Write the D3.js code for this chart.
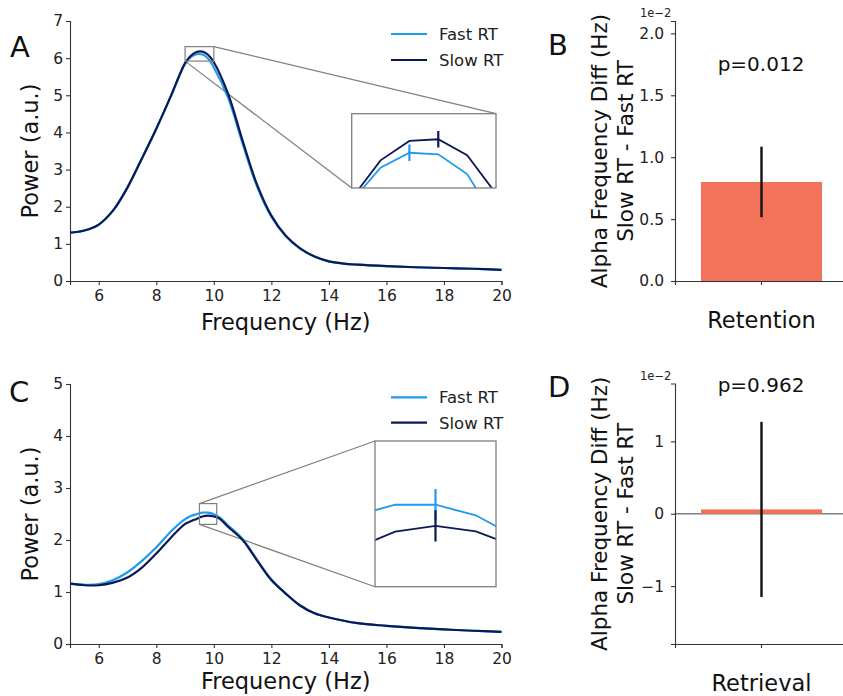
<!DOCTYPE html>
<html><head><meta charset="utf-8">
<script src="https://cdn.jsdelivr.net/npm/d3@7"></script>
<style>body{margin:0;background:#fff}svg{display:block;font-family:"DejaVu Sans",sans-serif}</style>
</head><body><svg id="c" width="843" height="696"></svg>
<script>
// ---------- data ----------
const seriesNames = ["Fast RT", "Slow RT"];
const freqTicks = [6, 8, 10, 12, 14, 16, 18, 20];

// Panel A (retention) spectra
const freqA = [5,5.5,6,6.5,7,7.5,8,8.5,9,9.2,9.4,9.6,9.8,10,10.5,11,11.5,12,12.5,13,13.5,14,14.5,15,16,17,18,19,20];
const fastA = [1.30,1.36,1.52,1.90,2.52,3.30,4.10,4.96,5.85,6.027,6.105,6.097,5.993,5.75,4.93,3.70,2.55,1.73,1.21,0.87,0.66,0.53,0.47,0.44,0.40,0.37,0.35,0.33,0.30];
const slowA = [1.30,1.36,1.52,1.90,2.52,3.30,4.10,4.97,5.865,6.065,6.167,6.176,6.092,5.89,5.03,3.78,2.60,1.76,1.22,0.88,0.66,0.53,0.47,0.44,0.40,0.37,0.35,0.33,0.30];
const peakFreqA = [9.4, 9.6];

// Panel C (retrieval) spectra
const freqC = [5,5.5,6,6.5,7,7.5,8,8.5,9,9.2,9.4,9.6,9.8,10,10.2,10.5,11,11.5,12,12.5,13,13.5,14,15,16,17,18,19,20];
const fastC = [1.16,1.14,1.15,1.23,1.38,1.60,1.86,2.16,2.40,2.46,2.495,2.525,2.525,2.496,2.436,2.28,2.02,1.62,1.24,0.97,0.74,0.59,0.51,0.40,0.35,0.31,0.28,0.255,0.235];
const slowC = [1.16,1.13,1.13,1.18,1.28,1.47,1.74,2.04,2.31,2.36,2.405,2.451,2.467,2.452,2.41,2.25,2.00,1.61,1.23,0.97,0.74,0.59,0.51,0.40,0.35,0.31,0.28,0.255,0.235];
const peakFreqC = [9.8, 9.8];

// Panels B / D: alpha frequency difference (Hz)
const conditions = ["Retention", "Retrieval"];
const diffValues = [0.0080, 0.0006];
const diffErrors = [0.00285, 0.0121];
const pValues = ["p=0.012", "p=0.962"];
const diffTicksB = [0, 0.005, 0.01, 0.015, 0.02];
const diffTicksD = [-0.01, 0, 0.01];

// ---------- style ----------
const FAST = "#1E9BEF", SLOW = "#0B1A55", BAR = "#F2735A", GRAY = "#7f7f7f", AX = "#333";
const TICK_FS = 15.5;
const svg = d3.select("#c");

function styleAxis(sel, fs) {
  sel.select(".domain").attr("stroke", AX).attr("stroke-width", 1.1);
  sel.selectAll(".tick line").attr("stroke", AX).attr("stroke-width", 1.1);
  sel.selectAll(".tick text").attr("fill", "#222").attr("font-size", fs).attr("font-family", "DejaVu Sans");
}

function panelLetter(t, x, y) {
  svg.append("text").attr("x", x).attr("y", y).attr("font-size", 29).attr("fill", "#111").text(t);
}

function spectrum(o) {
  const x = d3.scaleLinear().domain([5, 20]).range([70, 501.5]);
  const y = d3.scaleLinear().domain([0, o.ymax]).range([o.bottom, o.top]);
  const g = svg.append("g");
  const ax = g.append("g").attr("transform", `translate(0,${o.bottom})`)
    .call(d3.axisBottom(x).tickValues(freqTicks).tickSizeOuter(0).tickSize(4).tickPadding(5));
  styleAxis(ax, TICK_FS);
  const ay = g.append("g").attr("transform", `translate(70,0)`)
    .call(d3.axisLeft(y).ticks(o.ymax).tickSizeOuter(0).tickSize(4).tickPadding(3));
  styleAxis(ay, TICK_FS);

  // labels
  g.append("text").attr("x", 285.75).attr("y", o.bottom + o.xlabOff).attr("text-anchor", "middle")
    .attr("font-size", 22.5).attr("fill", "#111").text("Frequency (Hz)");
  g.append("text").attr("transform", `translate(38,${(o.top + o.bottom) / 2}) rotate(-90)`)
    .attr("text-anchor", "middle").attr("font-size", 22.5).attr("fill", "#111").text("Power (a.u.)");

  // inset geometry
  const ix = o.inset.x, iy = o.inset.y, bx = o.box;
  const sx = d3.scaleLinear().domain(ix).range([bx[0], bx[2]]);
  const sy = d3.scaleLinear().domain(iy).range([bx[3], bx[1]]);
  const src = { x0: x(ix[0]), x1: x(ix[1]), y0: y(iy[1]), y1: y(iy[0]) };
  const srcCorner = { tl: [src.x0, src.y0], tr: [src.x1, src.y0], bl: [src.x0, src.y1], br: [src.x1, src.y1] };
  const boxCorner = { tl: [bx[0], bx[1]], tr: [bx[2], bx[1]], bl: [bx[0], bx[3]], br: [bx[2], bx[3]] };
  o.connect.forEach(k => {
    g.append("line").attr("x1", srcCorner[k][0]).attr("y1", srcCorner[k][1])
      .attr("x2", boxCorner[k][0]).attr("y2", boxCorner[k][1])
      .attr("stroke", GRAY).attr("stroke-width", 1.2);
  });

  // main lines
  const line = d3.line().x((d, i) => x(o.freq[i])).y(d => y(d)).curve(d3.curveCatmullRom.alpha(0.5));
  g.append("path").datum(o.fast).attr("d", line).attr("fill", "none").attr("stroke", FAST).attr("stroke-width", 2.2);
  g.append("path").datum(o.slow).attr("d", line).attr("fill", "none").attr("stroke", SLOW).attr("stroke-width", 2.2);

  // source rect
  g.append("rect").attr("x", src.x0).attr("y", src.y0).attr("width", src.x1 - src.x0).attr("height", src.y1 - src.y0)
    .attr("fill", "none").attr("stroke", GRAY).attr("stroke-width", 1.2);

  // inset
  const id = "clip" + o.name;
  svg.append("clipPath").attr("id", id).append("rect")
    .attr("x", bx[0]).attr("y", bx[1]).attr("width", bx[2] - bx[0]).attr("height", bx[3] - bx[1]);
  g.append("rect").attr("x", bx[0]).attr("y", bx[1]).attr("width", bx[2] - bx[0]).attr("height", bx[3] - bx[1]).attr("fill", "#fff");
  const ig = g.append("g").attr("clip-path", `url(#${id})`);
  const iline = d3.line().x((d, i) => sx(o.freq[i])).y(d => sy(d));
  ig.append("path").datum(o.fast).attr("d", iline).attr("fill", "none").attr("stroke", FAST).attr("stroke-width", 1.8);
  ig.append("path").datum(o.slow).attr("d", iline).attr("fill", "none").attr("stroke", SLOW).attr("stroke-width", 1.8);
  [[o.fast, o.peaks[0], FAST], [o.slow, o.peaks[1], SLOW]].forEach(([s, pf, c]) => {
    const v = s[o.freq.indexOf(pf)];
    ig.append("line").attr("x1", sx(pf)).attr("x2", sx(pf)).attr("y1", sy(v - 0.043)).attr("y2", sy(v + 0.043))
      .attr("stroke", c).attr("stroke-width", 2.2);
  });
  g.append("rect").attr("x", bx[0]).attr("y", bx[1]).attr("width", bx[2] - bx[0]).attr("height", bx[3] - bx[1])
    .attr("fill", "none").attr("stroke", GRAY).attr("stroke-width", 1.3);

  // legend
  [[FAST, seriesNames[0], o.legendY[0]], [SLOW, seriesNames[1], o.legendY[1]]].forEach(([c, t, ly]) => {
    g.append("line").attr("x1", 391).attr("x2", 427).attr("y1", ly).attr("y2", ly).attr("stroke", c).attr("stroke-width", 2.2);
    g.append("text").attr("x", 439).attr("y", ly).attr("dy", "0.36em").attr("font-size", 16.5).attr("fill", "#222").text(t);
  });
}

function diffBar(o) {
  const x = d3.scaleBand().domain([o.cond]).range([675, 848]).paddingInner(0).paddingOuter(0.215);
  const y = d3.scaleLinear().domain(o.ydom).range([o.bottom, o.top]);
  const g = svg.append("g");
  if (o.zeroLine) {
    g.append("line").attr("x1", 675).attr("x2", 843).attr("y1", y(0)).attr("y2", y(0)).attr("stroke", GRAY).attr("stroke-width", 1.3);
  }
  const v = o.value, e = o.err;
  g.append("rect").attr("x", x(o.cond)).attr("width", x.bandwidth())
    .attr("y", y(Math.max(0, v))).attr("height", Math.abs(y(v) - y(0))).attr("fill", BAR);
  g.append("line").attr("x1", x(o.cond) + x.bandwidth() / 2).attr("x2", x(o.cond) + x.bandwidth() / 2)
    .attr("y1", y(v - e)).attr("y2", y(v + e)).attr("stroke", "#111").attr("stroke-width", 2.4);
  const ax = g.append("g").attr("transform", `translate(0,${o.bottom})`)
    .call(d3.axisBottom(x).tickSizeOuter(0).tickSize(4).tickPadding(27));
  styleAxis(ax, 22.5);
  ax.selectAll(".tick text").attr("fill", "#111");
  const ay = g.append("g").attr("transform", `translate(675,0)`)
    .call(d3.axisLeft(y).tickValues(o.ticks).tickFormat(o.fmt).tickSizeOuter(0).tickSize(4).tickPadding(7));
  styleAxis(ay, TICK_FS);
  g.append("text").attr("x", 640).attr("y", o.top - 4).attr("font-size", 11.5).attr("fill", "#222").text("1e\u22122");
  g.append("text").attr("x", 761).attr("y", o.pY).attr("text-anchor", "middle").attr("font-size", 20).attr("fill", "#111").text(o.p);
  const cy = (o.top + o.bottom) / 2;
  g.append("text").attr("transform", `translate(607,${cy}) rotate(-90)`).attr("text-anchor", "middle")
    .attr("font-size", 21.5).attr("fill", "#111").text("Alpha Frequency Diff (Hz)");
  g.append("text").attr("transform", `translate(633,${cy}) rotate(-90)`).attr("text-anchor", "middle")
    .attr("font-size", 21.5).attr("fill", "#111").text("Slow RT - Fast RT");
}

spectrum({ name: "A", ymax: 7, top: 21, bottom: 281, xlabOff: 49, freq: freqA, fast: fastA, slow: slowA, peaks: peakFreqA,
  inset: { x: [9, 10], y: [5.92, 6.31] }, box: [351.7, 113.7, 496, 188], connect: ["tr", "bl"], legendY: [34, 60] });
spectrum({ name: "C", ymax: 5, top: 384, bottom: 644, xlabOff: 45, freq: freqC, fast: fastC, slow: slowC, peaks: peakFreqC,
  inset: { x: [9.5, 10.1], y: [2.3, 2.7] }, box: [375, 441, 496, 586.7], connect: ["tl", "bl"], legendY: [397.3, 422.7] });

diffBar({ cond: conditions[0], value: diffValues[0], err: diffErrors[0], p: pValues[0], ydom: [0, 0.021],
  top: 21, bottom: 281, ticks: diffTicksB, fmt: d => (d / 0.01).toFixed(1), pY: 70.7, zeroLine: false });
diffBar({ cond: conditions[1], value: diffValues[1], err: diffErrors[1], p: pValues[1], ydom: [-0.018, 0.018],
  top: 383.5, bottom: 644, ticks: diffTicksD, fmt: d => d3.format("d")(Math.round(d / 0.01)), pY: 391.7, zeroLine: true });

panelLetter("A", 10, 56.7);
panelLetter("B", 548, 55);
panelLetter("C", 9, 402);
panelLetter("D", 548, 396.7);
</script></body></html>
